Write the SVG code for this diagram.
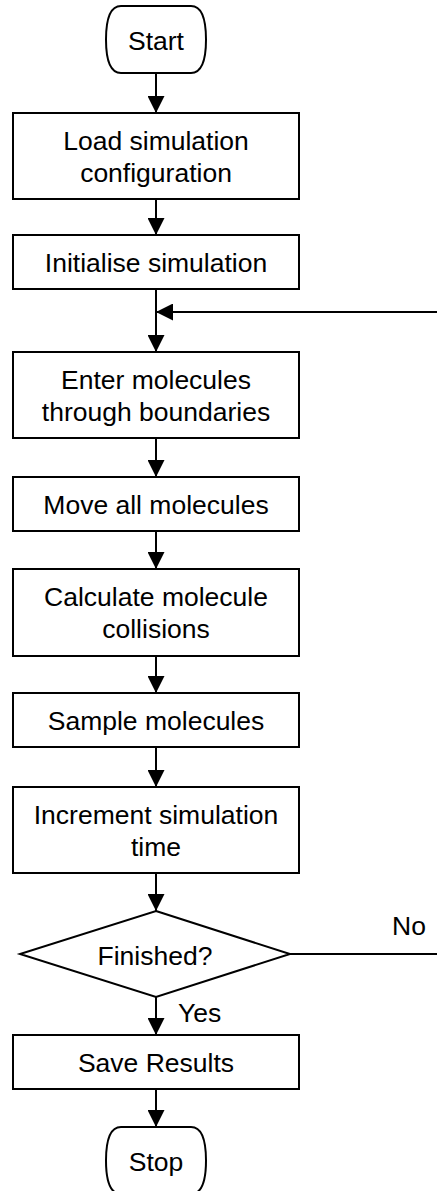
<svg xmlns="http://www.w3.org/2000/svg" width="437" height="1191" viewBox="0 0 437 1191">
  <style>
    .shape { fill: #ffffff; stroke: #000000; stroke-width: 2; }
    .conn { fill: none; stroke: #000000; stroke-width: 2; }
    .lbl { font-family: "Liberation Sans", Arial, sans-serif; font-size: 26.5px; fill: #000000; text-anchor: middle; }
    .side { font-family: "Liberation Sans", Arial, sans-serif; font-size: 26.5px; fill: #000000; }
  </style>
  <defs>
    <marker id="arrow" markerUnits="userSpaceOnUse" markerWidth="17" markerHeight="17" refX="17" refY="8.5" orient="auto">
      <path d="M0,0 L17,8.5 L0,17 Z" fill="#000000"/>
    </marker>
    <!-- terminator outline, centred on (156, 0) -->
    <path id="terminal" d="M121,-33.5 H191 C203,-33.5 206,-18 206,0 C206,18 203,33.5 191,33.5 H121 C109,33.5 106,18 106,0 C106,-18 109,-33.5 121,-33.5 Z"/>
  </defs>

  <!-- connectors -->
  <g id="connectors">
    <line class="conn" x1="156" y1="73" x2="156" y2="113" marker-end="url(#arrow)"/>
    <line class="conn" x1="156" y1="199" x2="156" y2="235" marker-end="url(#arrow)"/>
    <line class="conn" x1="156" y1="289" x2="156" y2="352" marker-end="url(#arrow)"/>
    <line class="conn" x1="437" y1="312" x2="156" y2="312" marker-end="url(#arrow)"/>
    <line class="conn" x1="156" y1="438" x2="156" y2="477" marker-end="url(#arrow)"/>
    <line class="conn" x1="156" y1="531" x2="156" y2="569" marker-end="url(#arrow)"/>
    <line class="conn" x1="156" y1="656" x2="156" y2="693" marker-end="url(#arrow)"/>
    <line class="conn" x1="156" y1="747" x2="156" y2="787" marker-end="url(#arrow)"/>
    <line class="conn" x1="156" y1="873" x2="156" y2="911" marker-end="url(#arrow)"/>
    <line class="conn" x1="156" y1="997" x2="156" y2="1035" marker-end="url(#arrow)"/>
    <line class="conn" x1="156" y1="1089" x2="156" y2="1127" marker-end="url(#arrow)"/>
    <line class="conn" x1="290" y1="954" x2="437" y2="954"/>
    <text class="side" x="392" y="935">No</text>
    <text class="side" x="178" y="1022">Yes</text>
  </g>

  <g id="start">
    <use href="#terminal" class="shape" transform="translate(0,39.5)"/>
    <text class="lbl" x="156" y="49.5">Start</text>
  </g>

  <g id="load-config">
    <rect class="shape" x="13" y="113" width="286" height="86"/>
    <text class="lbl" x="156" y="150">Load simulation</text>
    <text class="lbl" x="156" y="181.5">configuration</text>
  </g>

  <g id="initialise">
    <rect class="shape" x="13" y="235" width="286" height="54"/>
    <text class="lbl" x="156" y="271.5">Initialise simulation</text>
  </g>

  <g id="enter-molecules">
    <rect class="shape" x="13" y="352" width="286" height="86"/>
    <text class="lbl" x="156" y="389">Enter molecules</text>
    <text class="lbl" x="156" y="420.5">through boundaries</text>
  </g>

  <g id="move-molecules">
    <rect class="shape" x="13" y="477" width="286" height="54"/>
    <text class="lbl" x="156" y="513.5">Move all molecules</text>
  </g>

  <g id="collisions">
    <rect class="shape" x="13" y="569" width="286" height="87"/>
    <text class="lbl" x="156" y="606">Calculate molecule</text>
    <text class="lbl" x="156" y="637.5">collisions</text>
  </g>

  <g id="sample">
    <rect class="shape" x="13" y="693" width="286" height="54"/>
    <text class="lbl" x="156" y="729.5">Sample molecules</text>
  </g>

  <g id="increment-time">
    <rect class="shape" x="13" y="787" width="286" height="86"/>
    <text class="lbl" x="156" y="824">Increment simulation</text>
    <text class="lbl" x="156" y="855.5">time</text>
  </g>

  <g id="finished">
    <polygon class="shape" points="156,911 290,954 156,997 20,954"/>
    <text class="lbl" x="155" y="964.5">Finished?</text>
  </g>

  <g id="save-results">
    <rect class="shape" x="13" y="1035" width="286" height="54"/>
    <text class="lbl" x="156" y="1071.5">Save Results</text>
  </g>

  <g id="stop">
    <use href="#terminal" class="shape" transform="translate(0,1160.5)"/>
    <text class="lbl" x="156" y="1170.5">Stop</text>
  </g>
</svg>
